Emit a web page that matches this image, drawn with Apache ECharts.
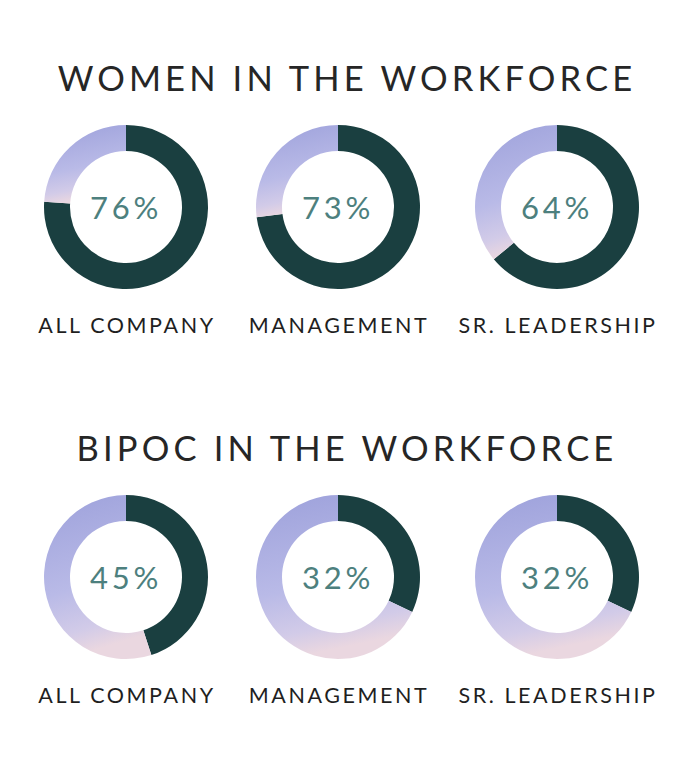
<!DOCTYPE html>
<html>
<head>
<meta charset="utf-8">
<script src="https://cdn.jsdelivr.net/npm/echarts@6/dist/echarts.min.js"></script>
<style>
html,body{margin:0;padding:0;background:#fff;}
#c{width:693px;height:767px;}
#c text{letter-spacing:0.12em;}
</style>
</head>
<body>
<div id="c"></div>
<script>
// Data
const sectionTitles = ['WOMEN IN THE WORKFORCE', 'BIPOC IN THE WORKFORCE'];
const groupLabels = ['ALL COMPANY', 'MANAGEMENT', 'SR. LEADERSHIP'];
const womenValues = [76, 73, 64];
const bipocValues = [45, 32, 32];

const colX = [126, 338, 557];
const rowY = [207, 577];
const titleY = [77, 447];
const labelY = [325, 695];
const FONT = 'Lato, "Open Sans", sans-serif';

const restColor = {
  type: 'linear', x: 0, y: 0, x2: 0.2, y2: 1,
  colorStops: [
    {offset: 0, color: '#9da1db'},
    {offset: 0.6, color: '#b9bae7'},
    {offset: 0.86, color: '#d2cbe8'},
    {offset: 1, color: '#ead7e0'}
  ]
};

const rows = [womenValues, bipocValues];
const series = [];
const graphics = [];
rows.forEach((vals, r) => {
  graphics.push({
    type: 'text', x: 347, y: titleY[r],
    style: {text: sectionTitles[r], font: '400 34.5px ' + FONT, fill: '#262626',
            textAlign: 'center', textVerticalAlign: 'middle'}
  });
  vals.forEach((v, i) => {
    series.push({
      type: 'pie',
      center: [colX[i], rowY[r]],
      radius: [56, 82],
      startAngle: 90,
      clockwise: true,
      silent: true,
      avoidLabelOverlap: false,
      label: {show: false},
      labelLine: {show: false},
      emphasis: {disabled: true},
      data: [
        {value: v, name: groupLabels[i], itemStyle: {color: '#1a3f40'},
         label: {show: true, position: 'center', formatter: v + '%',
                 fontFamily: FONT, fontSize: 31, color: '#4d807e', fontWeight: 400}},
        {value: 100 - v, name: 'other', itemStyle: {color: restColor}}
      ]
    });
    graphics.push({
      type: 'text', x: colX[i] + 1, y: labelY[r],
      style: {text: groupLabels[i], font: '400 21.5px ' + FONT, fill: '#1f1f1f',
              textAlign: 'center', textVerticalAlign: 'middle'}
    });
  });
});

const chart = echarts.init(document.getElementById('c'), null, {renderer: 'svg'});
chart.setOption({
  backgroundColor: '#ffffff',
  animation: false,
  graphic: graphics,
  series: series
});
</script>
</body>
</html>
